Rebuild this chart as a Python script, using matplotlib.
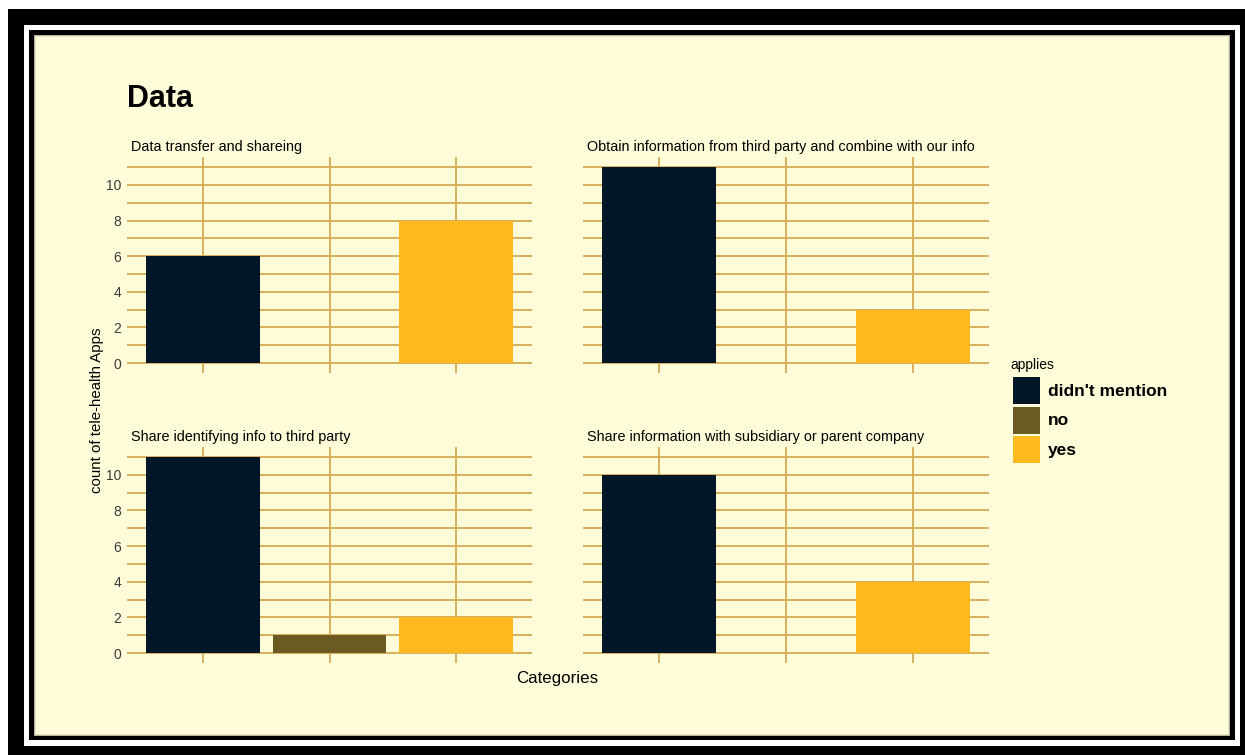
import matplotlib
matplotlib.use("Agg")
import matplotlib.pyplot as plt
from matplotlib.patches import Rectangle

plt.rcParams['font.family'] = ['Liberation Sans', 'DejaVu Sans']

# data
categories = ["didn't mention", "no", "yes"]
panel_titles = [
    "Data transfer and shareing",
    "Obtain information from third party and combine with our info",
    "Share identifying info to third party",
    "Share information with subsidiary or parent company",
]
panel_counts = [
    [6, 0, 8],
    [11, 0, 3],
    [11, 1, 2],
    [10, 0, 4],
]
bar_colors = ['#011627', '#6b5a22', '#fdb91e']

BG = '#fffdd9'
GRID = '#d4aa55'
W, H = 1245, 755


def fx(x):
    return x / W


def fy(y):
    return 1 - y / H


fig = plt.figure(figsize=(12.45, 7.55), dpi=100, facecolor='white')


def frame_rect(x0, y0, x1, y1, color):
    fig.patches.append(Rectangle((fx(x0), fy(y1)), fx(x1) - fx(x0), fy(y0) - fy(y1),
                                 transform=fig.transFigure, facecolor=color,
                                 edgecolor='none', zorder=-10))


# picture frame
frame_rect(8, 9, 1245, 755, 'black')
frame_rect(24, 25, 1240, 746, 'white')
frame_rect(29, 30, 1235, 740, 'black')
frame_rect(34, 35, 1230, 736, '#b9b79a')
frame_rect(35, 36, 1229, 735, '#e6e4c2')
frame_rect(36, 37, 1228, 734, BG)

# panel boxes in pixels: left, top, right, bottom
boxes = [
    (127, 157.4, 532, 372.8),
    (583, 157.4, 989, 372.8),
    (127, 447, 532, 663),
    (583, 447, 989, 663),
]

xs = [1, 2, 3]
for i, (title, counts) in enumerate(zip(panel_titles, panel_counts)):
    l, t, r, b = boxes[i]
    ax = fig.add_axes([fx(l), fy(b), fx(r) - fx(l), fy(t) - fy(b)])
    ax.patch.set_alpha(0)
    ax.bar(xs, counts, width=0.9, color=bar_colors, zorder=3)
    ax.set_xlim(0.4, 3.6)
    ax.set_ylim(-0.55, 11.55)
    ax.set_xticks(xs)
    ax.set_xticklabels([])
    ax.set_yticks(range(0, 11, 2))
    ax.set_yticks(range(1, 12, 2), minor=True)
    ax.grid(True, which='both', axis='y', color=GRID, lw=1.3, zorder=0)
    ax.grid(True, which='major', axis='x', color=GRID, lw=1.3, zorder=0)
    ax.tick_params(length=0, which='both', pad=4, labelsize=10, labelcolor='#3a3a3a')
    if i % 2 == 1:
        ax.set_yticklabels([])
    for s in ax.spines.values():
        s.set_visible(False)
    fig.text(fx(l + 4), fy(t - 10), title, fontsize=10.4, va='center', ha='left', color='black')

fig.text(fx(127), fy(99), "Data", fontsize=22, fontweight='bold', va='center', ha='left')
fig.text(fx(97), fy(410), "count of tele-health Apps", fontsize=10.8, rotation=90,
         va='center', ha='center')
fig.text(fx(557), fy(678), "Categories", fontsize=12.2, va='center', ha='center')

# legend drawn by hand: title, colour keys, bold labels
fig.text(fx(1010), fy(365), 'applies', fontsize=10, va='center', ha='left')
for k, (lab, col) in enumerate(zip(categories, bar_colors)):
    top = 377 + k * 29.5
    frame_rect(1013, top, 1040, top + 27, col)
    fig.patches[-1].set_zorder(5)
    fig.text(fx(1048), fy(top + 14), lab, fontsize=12.5, fontweight='bold',
             va='center', ha='left')

fig.savefig('out.png', dpi=100, facecolor='white')
